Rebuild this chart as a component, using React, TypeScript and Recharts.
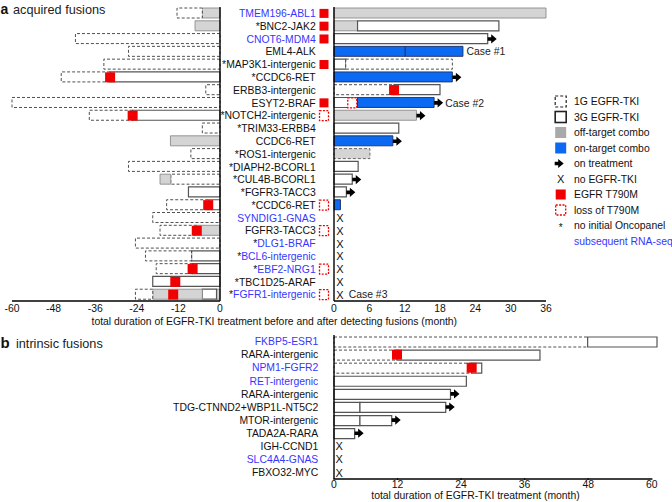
import React from 'react';
import { ComposedChart, Bar, Cell, XAxis, YAxis, Scatter, ReferenceLine } from 'recharts';

type Seg = [string, number]; // [kind, months]; kinds: d=1G, s=3G, g=off-target, gd=off-target on 1G, b=on-target
type Mark = [number, number]; // [row number, months]

// ---- panel a: acquired fusions ----
const A_LABELS = [
  'TMEM196-ABL1', 'BNC2-JAK2', 'CNOT6-MDM4', 'EML4-ALK', 'MAP3K1-intergenic', 'CCDC6-RET',
  'ERBB3-intergenic', 'ESYT2-BRAF', 'NOTCH2-intergenic', 'TRIM33-ERBB4', 'CCDC6-RET',
  'ROS1-intergenic', 'DIAPH2-BCORL1', 'CUL4B-BCORL1', 'FGFR3-TACC3', 'CCDC6-RET', 'SYNDIG1-GNAS',
  'FGFR3-TACC3', 'DLG1-BRAF', 'BCL6-intergenic', 'EBF2-NRG1', 'TBC1D25-ARAF', 'FGFR1-intergenic',
];
const A_STAR = [0, 1, 0, 0, 1, 1, 0, 0, 1, 1, 0, 1, 1, 1, 1, 1, 0, 0, 1, 1, 1, 1, 1];
const A_BLUE = [1, 0, 1, 0, 0, 0, 0, 0, 0, 0, 0, 0, 0, 0, 0, 0, 1, 0, 1, 1, 1, 0, 1];
// T = EGFR T790M at detection, L = loss of T790M
const A_STATUS = ['T', 'T', 'T', '', 'T', '', '', 'T', 'L', '', '', '', '', '', '', 'L', '', 'L', '', '', 'L', '', 'L'];

// segments listed from 0 outward
const A_BEFORE: Seg[][] = [
  [['g', 5.1], ['d', 7.3]],
  [['g', 7.2]],
  [['d', 41.7]],
  [['d', 26.4]],
  [['d', 33.5]],
  [['s', 31.7], ['d', 14.1]],
  [['d', 4.1]],
  [['d', 60]],
  [['s', 25.2], ['d', 12.5]],
  [['d', 5.1]],
  [['g', 14.3]],
  [['d', 8.4]],
  [['d', 26.4]],
  [['d', 14.2], ['g', 3.1]],
  [['s', 9.1]],
  [['s', 3.4], ['d', 12.0]],
  [['d', 19.4]],
  [['g', 6.7], ['d', 10.6]],
  [['d', 24.4]],
  [['s', 8.2], ['d', 13.3]],
  [['s', 7.9], ['d', 10.5]],
  [['s', 19.4]],
  [['g', 1.0], ['s', 4.1], ['g', 14.3], ['d', 5.0]],
];
const A_AFTER: Seg[][] = [
  [['g', 36]],
  [['g', 4.0], ['s', 24.0]],
  [['s', 26.1]],
  [['b', 12.1], ['b', 9.8]],
  [['s', 2.0], ['d', 18.1]],
  [['b', 20.1]],
  [['d', 10.2], ['s', 7.8]],
  [['s', 4.0], ['b', 13.0]],
  [['g', 14.0]],
  [['s', 11.0]],
  [['b', 10.0]],
  [['gd', 6.1]],
  [['s', 4.1]],
  [['s', 3.1]],
  [['s', 2.1]],
  [['b', 1.1]],
  [], [], [], [], [], [], [],
];
const A_BEFORE_T790M: Mark[] = [[6, -31.7], [9, -25.2], [16, -3.4], [18, -6.7], [21, -7.9], [22, -12.9], [23, -13.5]];
const A_AFTER_T790M: Mark[] = [[7, 10.2]];
const A_AFTER_LOSS: Mark[] = [[8, 3.1]];
const A_ONGOING = [3, 6, 8, 9, 11, 14, 15];
const A_NO_TKI = [17, 18, 19, 20, 21, 22, 23];
const A_CASES: [number, number, string][] = [[4, 22.5, 'Case #1'], [8, 18.9, 'Case #2'], [23, 2.5, 'Case #3']];
const A_TICKS_BEFORE = [-60, -48, -36, -24, -12, 0];
const A_TICKS_AFTER = [0, 6, 12, 18, 24, 30, 36];

// ---- panel b: intrinsic fusions ----
const B_LABELS = [
  'FKBP5-ESR1', 'RARA-intergenic', 'NPM1-FGFR2', 'RET-intergenic', 'RARA-intergenic',
  'TDG-CTNND2+WBP1L-NT5C2', 'MTOR-intergenic', 'TADA2A-RARA', 'IGH-CCND1', 'SLC4A4-GNAS', 'FBXO32-MYC',
];
const B_STAR = [0, 0, 0, 0, 0, 0, 0, 0, 0, 0, 0];
const B_BLUE = [1, 0, 1, 1, 0, 0, 0, 0, 0, 1, 0];
const B_SEGS: Seg[][] = [
  [['d', 47.9], ['s', 13.1]],
  [['d', 11.9], ['s', 27.0]],
  [['d', 26.0], ['s', 1.9]],
  [['s', 25.0]],
  [['s', 22.0]],
  [['s', 4.9], ['s', 16.2]],
  [['s', 4.9], ['s', 6.0]],
  [['s', 3.9]],
  [], [], [],
];
const B_T790M: Mark[] = [[2, 11.9], [3, 26.0]];
const B_ONGOING = [5, 6, 7, 8];
const B_NO_TKI = [9, 10, 11];
const B_TICKS = [0, 12, 24, 36, 48, 60];

const X_AT = 1; // months where the "no EGFR-TKI" cross sits

const FONT = '"Liberation Sans", Arial, Helvetica, sans-serif';
const RED = '#f00000';
const BLUE_TEXT = '#3636ff';
const INK = '#111';

const SEG_STYLE: Record<string, any> = {
  d: { fill: '#ffffff', stroke: '#3c3c3c', strokeWidth: 0.9, strokeDasharray: '3 2' },
  s: { fill: '#ffffff', stroke: '#555555', strokeWidth: 1.2 },
  g: { fill: '#d4d4d4', stroke: '#8c8c8c', strokeWidth: 0.9 },
  gd: { fill: '#d4d4d4', stroke: '#5a5a5a', strokeWidth: 0.9, strokeDasharray: '3 2' },
  b: { fill: '#0b69f2', stroke: '#1d2f63', strokeWidth: 0.9 },
};

const total = (s: Seg[]) => s.reduce((a, [, v]) => a + v, 0);

function toRows(prefix: string, segs: Seg[][], sign: number) {
  return segs.map((s, i) => {
    const r: Record<string, any> = { id: prefix + (i + 1) };
    s.forEach(([t, v], k) => {
      r['s' + k] = sign * v;
      r['t' + k] = t;
    });
    return r;
  });
}
const pts = (prefix: string, marks: Mark[]) => marks.map(([r, v]) => ({ id: prefix + r, x: v }));

const aLeftRows = toRows('a', A_BEFORE, -1);
const aRightRows = toRows('a', A_AFTER, 1);
const bRows = toRows('b', B_SEGS, 1);

function segBars(rows: Record<string, any>[], slots: number, stack: string) {
  return Array.from({ length: slots }, (_, j) => (
    <Bar key={'s' + j} dataKey={'s' + j} stackId={stack} barSize={10} isAnimationActive={false}>
      {rows.map((r, i) => (
        <Cell key={i} {...(SEG_STYLE[r['t' + j]] || { fill: 'none' })} />
      ))}
    </Bar>
  ));
}

const arrowPath = (x: number, y: number) =>
  `M${x},${y - 1.8}H${x + 3.5}V${y - 4.6}L${x + 9},${y}L${x + 3.5},${y + 4.6}V${y + 1.8}H${x}Z`;

const redBox = (p: any) => <rect x={p.cx - 5} y={p.cy - 5} width={10} height={10} fill={RED} />;
const lossBox = (p: any) => (
  <rect x={p.cx - 4.5} y={p.cy - 5} width={9} height={10} fill="#fff" stroke={RED} strokeWidth={1.3} strokeDasharray="2 1.4" />
);
const arrow = (p: any) => <path d={arrowPath(p.cx, p.cy)} fill="#000" />;
const cross = (p: any) => (
  <text x={p.cx} y={p.cy} dy="0.37em" textAnchor="middle" fontSize={11} fontFamily={FONT} fill={INK}>X</text>
);
const caseText = (p: any) => (
  <text x={p.cx} y={p.cy} dy="0.36em" fontSize={10.4} fontFamily={FONT} fill="#222">{p.payload.text}</text>
);

function makeXTick(labelDy: number, drawAxis: boolean) {
  let prevX: number | null = null;
  return (props: any) => {
    const { x, y, payload, index } = props;
    if (index === 0) prevX = null;
    const seg = drawAxis && prevX !== null
      ? <line x1={prevX} x2={x} y1={y} y2={y} stroke="#000" strokeWidth={1.4} strokeLinecap="square" />
      : null;
    prevX = x;
    return (
      <g>
        {seg}
        <text x={x} y={y + labelDy} textAnchor="middle" fontSize={10.4} fontFamily={FONT} fill={INK}>
          {payload.value}
        </text>
      </g>
    );
  };
}

function makeYTick(labels: string[], stars: number[], blues: number[], status: string[] | null, gap: number) {
  return (props: any) => {
    const { x, y, payload } = props;
    const i = Number(String(payload.value).slice(1)) - 1;
    const st = status ? status[i] : '';
    return (
      <g>
        <text x={x - gap} y={y} dy="0.36em" textAnchor="end" fontSize={10.4} fontFamily={FONT}>
          {stars[i] ? <tspan fill={INK}>*</tspan> : null}
          <tspan fill={blues[i] ? BLUE_TEXT : INK}>{labels[i]}</tspan>
        </text>
        {st === 'T' && <rect x={x - 14.5} y={y - 4.5} width={9} height={9} fill={RED} />}
        {st === 'L' && (
          <rect x={x - 14.5} y={y - 5} width={9} height={10} fill="#fff" stroke={RED} strokeWidth={1.3} strokeDasharray="2 1.4" />
        )}
      </g>
    );
  };
}

const LEGEND: [string, string][] = [
  ['1G EGFR-TKI', 'dash'],
  ['3G EGFR-TKI', 'solid'],
  ['off-target combo', 'gray'],
  ['on-target combo', 'blue'],
  ['on treatment', 'arrow'],
  ['no EGFR-TKI', 'x'],
  ['EGFR T790M', 'red'],
  ['loss of T790M', 'loss'],
  ['no initial Oncopanel', 'star'],
  ['subsequent RNA-seq', 'none'],
];

function LegendIcon({ kind, x, y }: { kind: string; x: number; y: number }) {
  const sq = { x: x - 5.5, y: y - 5.5, width: 11, height: 11 };
  switch (kind) {
    case 'dash':
      return <rect {...sq} fill="#fff" stroke="#222" strokeWidth={1.2} strokeDasharray="3 2" />;
    case 'solid':
      return <rect {...sq} fill="#fff" stroke="#222" strokeWidth={1.6} />;
    case 'gray':
      return <rect {...sq} fill="#a9a9a9" />;
    case 'blue':
      return <rect {...sq} fill="#0b69f2" />;
    case 'arrow':
      return <path d={arrowPath(x - 6, y)} fill="#000" />;
    case 'x':
      return <text x={x} y={y} dy="0.37em" textAnchor="middle" fontSize={11} fontFamily={FONT} fill={INK}>X</text>;
    case 'red':
      return <rect x={x - 5} y={y - 5} width={10} height={10} fill={RED} />;
    case 'loss':
      return <rect x={x - 5} y={y - 5} width={10} height={10} fill="#fff" stroke={RED} strokeWidth={1.3} strokeDasharray="2 1.4" />;
    case 'star':
      return <text x={x} y={y} dy="0.55em" textAnchor="middle" fontSize={10} fontFamily={FONT} fill={INK}>*</text>;
    default:
      return null;
  }
}

export default function App() {
  return (
    <div style={{ position: 'absolute', left: 0, top: 0, width: 672, height: 502, background: '#fff', overflow: 'hidden' }}>
      {/* titles, axis titles, legend */}
      <svg width={672} height={502} style={{ position: 'absolute', left: 0, top: 0 }} fontFamily={FONT}>
        <text x={0.5} y={13.5} fontSize={14} fontWeight="bold" fill={INK}>a</text>
        <text x={13} y={13.5} fontSize={12.7} fill="#222">acquired fusions</text>
        <text x={0.5} y={348} fontSize={15} fontWeight="bold" fill={INK}>b</text>
        <text x={16} y={348} fontSize={12.7} fill="#222">intrinsic fusions</text>
        <text x={274.3} y={324.5} textAnchor="middle" fontSize={10.4} fill={INK}>
          total duration of EGFR-TKI treatment before and after detecting fusions (month)
        </text>
        <text x={475.5} y={499} textAnchor="middle" fontSize={10.4} fill={INK}>
          total duration of EGFR-TKI treatment (month)
        </text>
        {LEGEND.map(([label, kind], i) => {
          const y = 101.5 + i * 15.5;
          return (
            <g key={label}>
              <LegendIcon kind={kind} x={560.7} y={y} />
              <text x={574} y={y} dy="0.36em" fontSize={10.4} fill={kind === 'none' ? BLUE_TEXT : INK}>{label}</text>
            </g>
          );
        })}
      </svg>

      {/* panel a, before detecting fusions */}
      <div style={{ position: 'absolute', left: 0, top: 0 }}>
        <ComposedChart width={230} height={330} data={aLeftRows} layout="vertical" stackOffset="sign"
          margin={{ top: 7, right: 10, bottom: 9, left: 12 }}>
          <XAxis type="number" domain={[-60, 0]} ticks={A_TICKS_BEFORE} interval={0} height={20}
            tickSize={0} tickMargin={0} tickLine={false} axisLine={{ stroke: '#000', strokeWidth: 1.4 }}
            tick={makeXTick(10.7, false)} />
          <YAxis type="category" dataKey="id" hide allowDuplicatedCategory={false} />
          {segBars(aLeftRows, 4, 'L')}
          <ReferenceLine x={0} stroke="#000" strokeWidth={1.4} />
          <Scatter data={pts('a', A_BEFORE_T790M)} dataKey="x" shape={redBox} isAnimationActive={false} />
        </ComposedChart>
      </div>

      {/* panel a, after detecting fusions (with row labels) */}
      <div style={{ position: 'absolute', left: 0, top: 0 }}>
        <ComposedChart width={600} height={330} data={aRightRows} layout="vertical" stackOffset="sign"
          margin={{ top: 7, right: 54, bottom: 9, left: 0 }}>
          <XAxis type="number" domain={[0, 36]} ticks={A_TICKS_AFTER} interval={0} height={20}
            tickSize={0} tickMargin={0} tickLine={false} axisLine={{ stroke: '#000', strokeWidth: 1.4 }}
            tick={makeXTick(10.7, false)} />
          <YAxis type="category" dataKey="id" width={334} allowDuplicatedCategory={false} interval={0}
            tickLine={false} tickSize={0} tickMargin={0} axisLine={{ stroke: '#000', strokeWidth: 1.4 }}
            tick={makeYTick(A_LABELS, A_STAR, A_BLUE, A_STATUS, 18.3)} />
          {segBars(aRightRows, 2, 'R')}
          <Scatter data={pts('a', A_AFTER_T790M)} dataKey="x" shape={redBox} isAnimationActive={false} />
          <Scatter data={pts('a', A_AFTER_LOSS)} dataKey="x" shape={lossBox} isAnimationActive={false} />
          <Scatter data={A_ONGOING.map((r) => ({ id: 'a' + r, x: total(A_AFTER[r - 1]) }))} dataKey="x"
            shape={arrow} isAnimationActive={false} />
          <Scatter data={A_NO_TKI.map((r) => ({ id: 'a' + r, x: X_AT }))} dataKey="x" shape={cross}
            isAnimationActive={false} />
          <Scatter data={A_CASES.map(([r, v, text]) => ({ id: 'a' + r, x: v, text }))} dataKey="x"
            shape={caseText} isAnimationActive={false} />
        </ComposedChart>
      </div>

      {/* panel b */}
      <div style={{ position: 'absolute', left: 0, top: 330 }}>
        <ComposedChart width={672} height={172} data={bRows} layout="vertical" stackOffset="sign"
          margin={{ top: 5, right: 15, bottom: 3, left: 0 }}>
          <XAxis type="number" domain={[0, 61]} ticks={B_TICKS} interval={0} height={20}
            tickSize={0} tickMargin={0} tickLine={false} axisLine={false}
            tick={makeXTick(8.7, true)} />
          <YAxis type="category" dataKey="id" width={334} allowDuplicatedCategory={false} interval={0}
            tickLine={false} tickSize={0} tickMargin={0} axisLine={{ stroke: '#000', strokeWidth: 1.4 }}
            tick={makeYTick(B_LABELS, B_STAR, B_BLUE, null, 15.7)} />
          {segBars(bRows, 2, 'B')}
          <Scatter data={pts('b', B_T790M)} dataKey="x" shape={redBox} isAnimationActive={false} />
          <Scatter data={B_ONGOING.map((r) => ({ id: 'b' + r, x: total(B_SEGS[r - 1]) }))} dataKey="x"
            shape={arrow} isAnimationActive={false} />
          <Scatter data={B_NO_TKI.map((r) => ({ id: 'b' + r, x: X_AT }))} dataKey="x" shape={cross}
            isAnimationActive={false} />
        </ComposedChart>
      </div>
    </div>
  );
}
